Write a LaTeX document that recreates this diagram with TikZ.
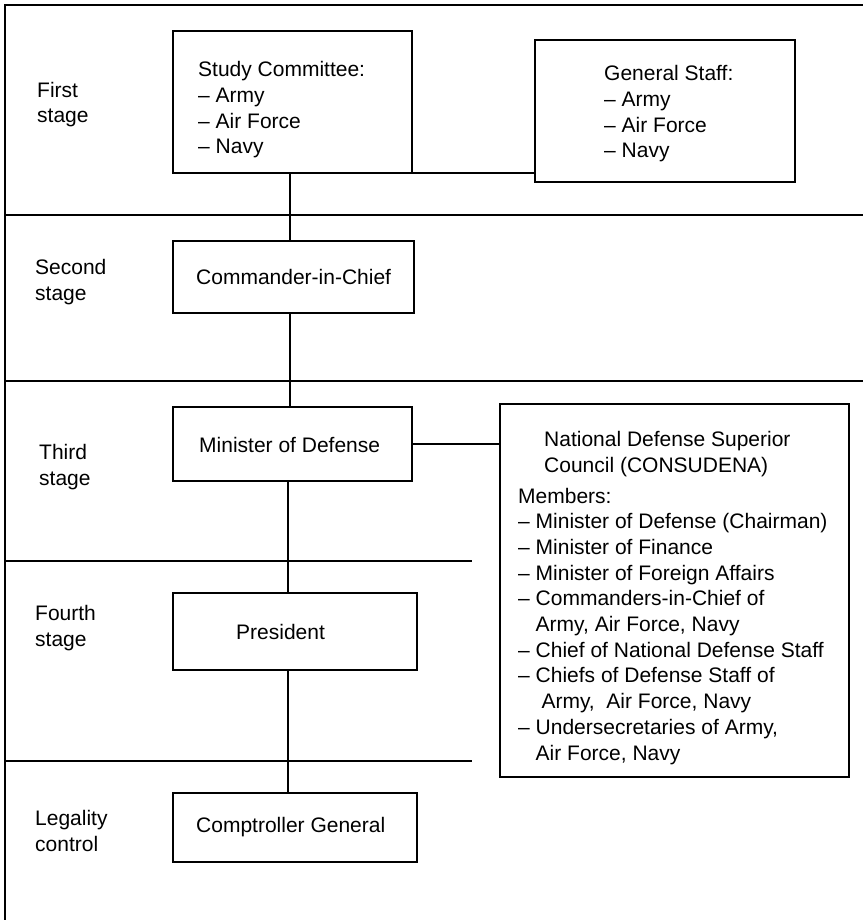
\documentclass[tikz,border=0pt]{standalone}
\usepackage{fontspec}
\setmainfont{Liberation Sans}
\begin{document}
\begin{tikzpicture}[x=1pt, y=-1pt,
  rule/.style={line width=1.7pt, line cap=rect},
  link/.style={line width=1.7pt},
  box/.style={draw, line width=1.7pt, anchor=north west, inner sep=0pt, outer sep=0pt},
  % the base anchor of a multi-line text is the baseline of its last line
  txt/.style={anchor=base west, inner sep=0pt, align=left,
              font=\fontsize{21}{25.7}\selectfont},
  stage/.style={txt}]
  \useasboundingbox (0,0) rectangle (862,920);

  % frame and stage separators
  \draw[rule] (5,920) -- (5,5) -- (862,5);
  \draw[rule] (5,215) -- (862,215);
  \draw[rule] (5,381) -- (862,381);
  \draw[rule] (5,561) -- (471,561);
  \draw[rule] (5,761) -- (471,761);

  % stage labels
  \node[stage] (s1) at (37,123) {First\\stage};
  \node[stage] (s2) at (35,300) {Second\\stage};
  \node[stage] (s3) at (39,485) {Third\\stage};
  \node[stage] (s4) at (35,646) {Fourth\\stage};
  \node[stage] (s5) at (35,851) {Legality\\control};

  % boxes
  \node[box, minimum width=239pt, minimum height=142pt] (study)    at (173,31)  {};
  \node[box, minimum width=260pt, minimum height=142pt] (gstaff)   at (535,40)  {};
  \node[box, minimum width=241pt, minimum height=72pt]  (cic)      at (173,241) {};
  \node[box, minimum width=239pt, minimum height=74pt]  (minister) at (173,407) {};
  \node[box, minimum width=349pt, minimum height=373pt] (council)  at (500,404) {};
  \node[box, minimum width=244pt, minimum height=77pt]  (pres)     at (173,593) {};
  \node[box, minimum width=244pt, minimum height=69pt]  (comp)     at (173,793) {};

  % box texts
  \node[txt] (studytxt) at (198,154) {Study Committee:\\– Army\\– Air Force\\– Navy};
  \node[txt] (gstafftxt) at (604,158) {General Staff:\\– Army\\– Air Force\\– Navy};
  \node[txt] (cictxt) at (196,284) {Commander-in-Chief};
  \node[txt] (ministertxt) at (199,452) {Minister of Defense};
  \node[txt] (prestxt) at (236,639) {President};
  \node[txt] (comptxt) at (196,832) {Comptroller General};
  \node[txt] (councilhead) at (544,472) {National Defense Superior\\Council (CONSUDENA)};
  \node[txt] (members) at (518,760) {Members:\\
    – Minister of Defense (Chairman)\\
    – Minister of Finance\\
    – Minister of Foreign Affairs\\
    – Commanders-in-Chief of\\
    \phantom{– }Army, Air Force, Navy\\
    – Chief of National Defense Staff\\
    – Chiefs of Defense Staff of\\
    \phantom{– }\ Army,\ \ Air Force, Navy\\
    – Undersecretaries of Army,\\
    \phantom{– }Air Force, Navy};

  % connectors
  \coordinate (spineA) at (290,0);
  \coordinate (spineB) at (288,0);
  \draw[link] (study.south east) -- (study.south east -| gstaff.west);
  \draw[link] (study.south -| spineA) -- (cic.north -| spineA);
  \draw[link] (cic.south -| spineA) -- (minister.north -| spineA);
  \draw[link] (minister.east) -- (minister.east -| council.west);
  \draw[link] (minister.south -| spineB) -- (pres.north -| spineB);
  \draw[link] (pres.south -| spineB) -- (comp.north -| spineB);
\end{tikzpicture}
\end{document}
